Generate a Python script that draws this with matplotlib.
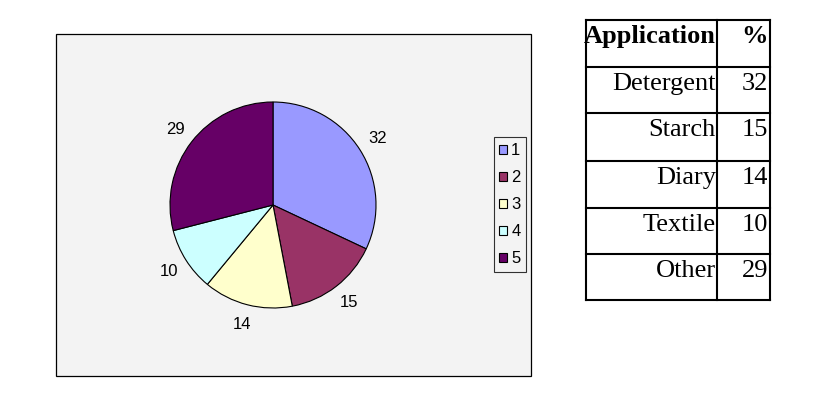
import matplotlib
matplotlib.use("Agg")
import matplotlib.pyplot as plt
from matplotlib.patches import Rectangle, Patch
from matplotlib.lines import Line2D

# ---- data ----
applications = ["Detergent", "Starch", "Diary", "Textile", "Other"]
percents = [32, 15, 14, 10, 29]
legend_labels = ["1", "2", "3", "4", "5"]
table_header = ["Application", "%"]
colors = ["#9999FF", "#993366", "#FFFFCC", "#CCFFFF", "#660066"]

W, H = 823, 395
fig = plt.figure(figsize=(W / 100, H / 100), dpi=100)
fig.patch.set_facecolor("white")

def fx(x):
    return x / W

def fy(y):
    return 1 - y / H

# chart area background
bg = Rectangle((fx(56), fy(376)), fx(531) - fx(56), fy(34) - fy(376),
               transform=fig.transFigure, facecolor="#F3F3F3",
               edgecolor="black", linewidth=0.9, zorder=-10)
fig.patches.append(bg)

# pie axes
cx, cy, r = 273, 205, 103
ax = fig.add_axes([fx(cx - r), fy(cy + r), (2 * r) / W, (2 * r) / H])
ax.set_zorder(2)
ax.patch.set_visible(False)
wedges, texts = ax.pie(percents, colors=colors, startangle=90, counterclock=False,
                       labels=[str(p) for p in percents], labeldistance=1.2,
                       radius=1, wedgeprops=dict(edgecolor="black", linewidth=0.8),
                       textprops=dict(fontsize=12, family="Liberation Sans"))
ax.set_xlim(-1, 1)
ax.set_ylim(-1, 1)
ax.set_aspect("equal")
ax.axis("off")
for t in texts:
    t.set_ha("center")
    t.set_va("center")
    t.set_clip_on(False)

# legend
handles = [Patch(facecolor=c, edgecolor="black", linewidth=0.8) for c in colors]
leg = fig.legend(handles, legend_labels, loc="center",
                 bbox_to_anchor=(fx(510), fy(204.5)),
                 bbox_transform=fig.transFigure,
                 prop=dict(family="Liberation Sans", size=12),
                 handlelength=0.45, handleheight=0.45, handletextpad=0.25,
                 labelspacing=0.72, borderpad=0.35, borderaxespad=0,
                 fancybox=False, frameon=True)
leg.get_frame().set_edgecolor("black")
leg.get_frame().set_facecolor("#F3F3F3")
leg.get_frame().set_linewidth(0.8)
leg.set_zorder(3)

# table
tx0, tx1, tx2 = 586, 717, 770
row_tops = [20, 67, 113, 161, 208, 254]
ty_bottom = 300
lw = 1.5
for y in row_tops + [ty_bottom]:
    fig.add_artist(Line2D([fx(tx0), fx(tx2)], [fy(y), fy(y)], transform=fig.transFigure,
                          color="black", linewidth=lw))
for x in [tx0, tx1, tx2]:
    fig.add_artist(Line2D([fx(x), fx(x)], [fy(row_tops[0]), fy(ty_bottom)],
                          transform=fig.transFigure, color="black", linewidth=lw))

serif = "Liberation Serif"
fs = 19
fig.text(fx(tx1 - 1), fy(row_tops[0] + 23), table_header[0], ha="right", va="baseline",
         fontsize=fs, family=serif, fontweight="bold")
fig.text(fx(tx2 - 2), fy(row_tops[0] + 23), table_header[1], ha="right", va="baseline",
         fontsize=fs, family=serif, fontweight="bold")
for i, (app, p) in enumerate(zip(applications, percents)):
    yb = row_tops[i + 1] + 23
    fig.text(fx(tx1 - 1), fy(yb), app, ha="right", va="baseline", fontsize=fs, family=serif)
    fig.text(fx(tx2 - 2), fy(yb), str(p), ha="right", va="baseline", fontsize=fs, family=serif)

fig.savefig("out.png", dpi=100)
